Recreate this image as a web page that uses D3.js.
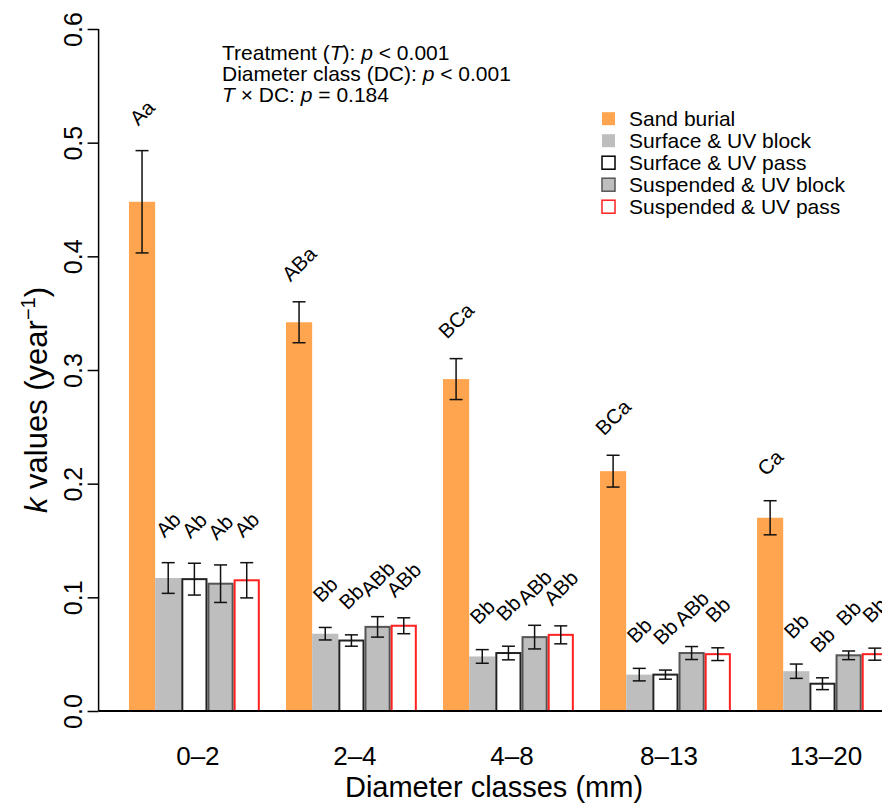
<!DOCTYPE html>
<html>
<head>
<meta charset="utf-8">
<script src="https://cdn.jsdelivr.net/npm/d3@7"></script>
<style>
  body { margin: 0; background: #fff; }
  svg { display: block; font-family: "Liberation Sans", Arial, Helvetica, sans-serif; }
</style>
</head>
<body>
<svg id="chart" width="882" height="803"></svg>
<script>
// diameter classes and treatments
var classes = ["0–2", "2–4", "4–8", "8–13", "13–20"];
var treatments = ["Sand burial", "Surface & UV block", "Surface & UV pass", "Suspended & UV block", "Suspended & UV pass"];

// k values (mean) per treatment, by class
var sandBurial  = [0.448, 0.342, 0.292, 0.211, 0.170];
var surfBlock   = [0.117, 0.068, 0.048, 0.032, 0.035];
var surfPass    = [0.116, 0.062, 0.051, 0.032, 0.024];
var suspBlock   = [0.112, 0.074, 0.065, 0.051, 0.049];
var suspPass    = [0.115, 0.075, 0.067, 0.050, 0.050];

// standard errors
var sandBurialSe = [0.045, 0.018, 0.018, 0.014, 0.015];
var surfBlockSe  = [0.0135, 0.0055, 0.006, 0.0055, 0.0063];
var surfPassSe   = [0.014, 0.005, 0.006, 0.004, 0.0052];
var suspBlockSe  = [0.0165, 0.009, 0.0104, 0.0057, 0.0038];
var suspPassSe   = [0.0155, 0.007, 0.0079, 0.0056, 0.0053];

// letters from post-hoc tests
var sandBurialLab = ["Aa", "ABa", "BCa", "BCa", "Ca"];
var surfBlockLab  = ["Ab", "Bb", "Bb", "Bb", "Bb"];
var surfPassLab   = ["Ab", "Bb", "Bb", "Bb", "Bb"];
var suspBlockLab  = ["Ab", "ABb", "ABb", "ABb", "Bb"];
var suspPassLab   = ["Ab", "ABb", "ABb", "Bb", "Bb"];

var yTicks = [0.0, 0.1, 0.2, 0.3, 0.4, 0.5, 0.6];

var means = [sandBurial, surfBlock, surfPass, suspBlock, suspPass];
var ses = [sandBurialSe, surfBlockSe, surfPassSe, suspBlockSe, suspPassSe];
var labs = [sandBurialLab, surfBlockLab, surfPassLab, suspBlockLab, suspPassLab];

var fills = ["#FFA54F", "#BEBEBE", "#FFFFFF", "#BEBEBE", "#FFFFFF"];
var strokes = ["none", "none", "#222", "#555", "#FF2020"];

var svg = d3.select("#chart");

// bar units like R barplot (space = c(0, 1))
var x = d3.scaleLinear().domain([-0.16, 31.16]).range([98.6, 98.6 + 31.32 * 26.17]);
var y = d3.scaleLinear().domain([0, 0.6]).range([711, 29]);

var bars = [];
classes.forEach(function(c, g) {
    treatments.forEach(function(t, j) {
        bars.push({g: g, j: j, u: 1 + 6 * g + j, v: means[j][g], se: ses[j][g], lab: labs[j][g]});
    });
});

var bw = x(1) - x(0);

svg.append("g").selectAll("rect")
    .data(bars)
    .enter().append("rect")
    .attr("x", function(d) { return x(d.u) + (strokes[d.j] == "none" ? 0 : 1); })
    .attr("y", function(d) { return y(d.v); })
    .attr("width", function(d) { return bw - (strokes[d.j] == "none" ? 0 : 2); })
    .attr("height", function(d) { return y(0) - y(d.v); })
    .attr("fill", function(d) { return fills[d.j]; })
    .attr("stroke", function(d) { return strokes[d.j]; })
    .attr("stroke-width", 2);

// error bars
var eb = svg.append("g").attr("stroke", "#111").attr("stroke-width", 1.5);
bars.forEach(function(d) {
    var cx = x(d.u + 0.5);
    eb.append("line").attr("x1", cx).attr("x2", cx).attr("y1", y(d.v + d.se)).attr("y2", y(d.v - d.se));
    eb.append("line").attr("x1", cx - 6.5).attr("x2", cx + 6.5).attr("y1", y(d.v + d.se)).attr("y2", y(d.v + d.se));
    eb.append("line").attr("x1", cx - 6.5).attr("x2", cx + 6.5).attr("y1", y(d.v - d.se)).attr("y2", y(d.v - d.se));
});

// letters
svg.append("g").selectAll("text")
    .data(bars)
    .enter().append("text")
    .attr("transform", function(d) {
        return "translate(" + x(d.u + 0.5) + "," + (y(d.v + d.se) - 38) + ") rotate(-45)";
    })
    .attr("text-anchor", "middle")
    .attr("dy", "0.35em")
    .attr("font-size", 20.5)
    .text(function(d) { return d.lab; });

// x axis line
svg.append("line").attr("x1", 98.6).attr("x2", 882).attr("y1", y(0)).attr("y2", y(0))
    .attr("stroke", "#000").attr("stroke-width", 2);

// x tick labels
svg.append("g").selectAll("text")
    .data(classes)
    .enter().append("text")
    .attr("x", function(c, g) { return x(1 + 6 * g + 2.5) + 3.5; })
    .attr("y", 765)
    .attr("text-anchor", "middle")
    .attr("font-size", 26)
    .text(function(c) { return c; });

// y axis
var yAxis = d3.axisLeft(y).tickValues(yTicks).tickFormat(d3.format(".1f")).tickSize(11).tickPadding(10);
var ya = svg.append("g").attr("transform", "translate(98.6,0)").call(yAxis);
ya.select(".domain").attr("stroke-width", 1.5).attr("d", "M0," + y(0) + "V" + y(0.6));
ya.selectAll(".tick line").attr("stroke-width", 1.5);
ya.selectAll(".tick text")
    .attr("font-size", 25)
    .attr("font-family", "Liberation Sans, Arial, sans-serif")
    .attr("fill", "#000")
    .attr("text-anchor", "middle")
    .attr("x", 0).attr("dy", 0)
    .attr("transform", "translate(-17,0) rotate(-90)");

// axis titles
svg.append("text")
    .attr("x", 494).attr("y", 797)
    .attr("text-anchor", "middle")
    .attr("font-size", 29)
    .text("Diameter classes (mm)");

var yt = svg.append("text")
    .attr("transform", "translate(47,400) rotate(-90)")
    .attr("text-anchor", "middle")
    .attr("font-size", 31);
yt.append("tspan").attr("font-style", "italic").text("k");
yt.append("tspan").text(" values (year");
yt.append("tspan").attr("dy", -12).attr("font-size", 20).text("−1");
yt.append("tspan").attr("dy", 12).text(")");

// statistics annotation
var notes = [
    [["Treatment (", ""], ["T", "italic"], ["): ", ""], ["p", "italic"], [" < 0.001", ""]],
    [["Diameter class (DC): ", ""], ["p", "italic"], [" < 0.001", ""]],
    [["T", "italic"], [" × DC: ", ""], ["p", "italic"], [" = 0.184", ""]]
];
notes.forEach(function(parts, i) {
    var t = svg.append("text").attr("x", 222).attr("y", 60 + i * 20.8).attr("font-size", 21);
    parts.forEach(function(p) {
        t.append("tspan").attr("font-style", p[1] || null).text(p[0]);
    });
});

// legend
var lg = svg.append("g").attr("transform", "translate(602,0)");
treatments.forEach(function(t, j) {
    var cy = 118.7 + j * 22;
    lg.append("rect").attr("x", 0).attr("y", cy - 6.5).attr("width", 13).attr("height", 13)
        .attr("fill", fills[j])
        .attr("stroke", strokes[j] == "none" ? "none" : (j == 2 ? "#000" : strokes[j]))
        .attr("stroke-width", 1.5);
    lg.append("text").attr("x", 27).attr("y", cy).attr("dy", "0.35em").attr("font-size", 21).text(t);
});
</script>
</body>
</html>
